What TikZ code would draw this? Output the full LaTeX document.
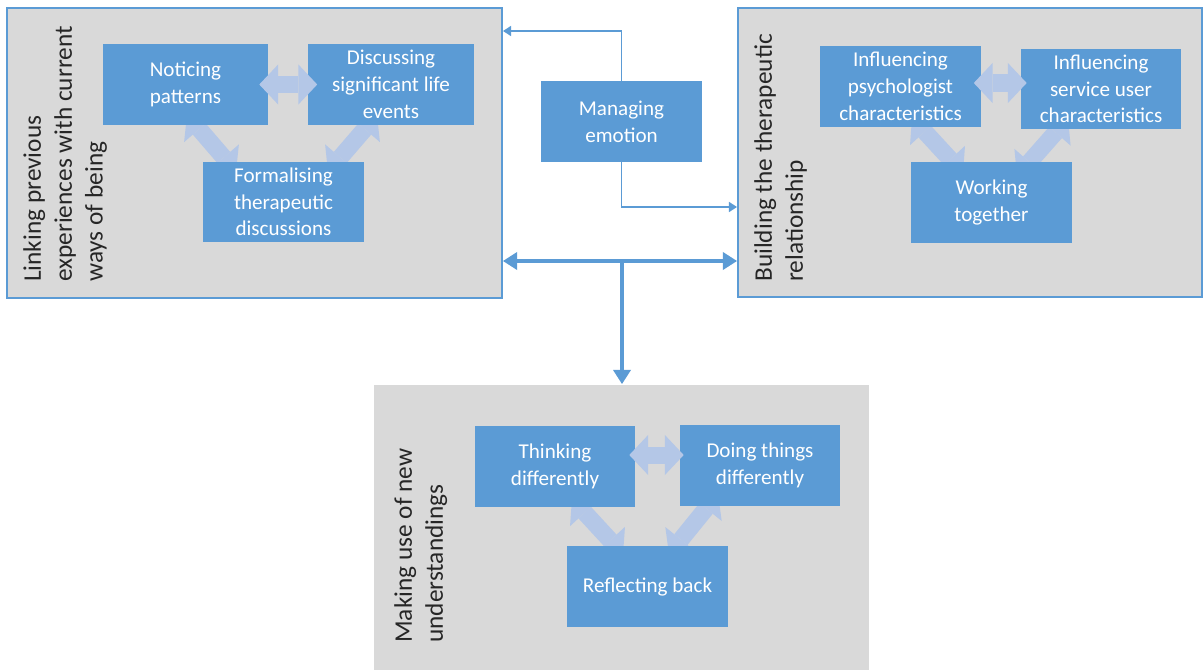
\documentclass[tikz,border=0pt]{standalone}
\usepackage{fontspec}
\setmainfont{Carlito}
\usetikzlibrary{arrows.meta}
\definecolor{boxblue}{HTML}{5B9BD5}
\definecolor{themegray}{HTML}{D9D9D9}
\definecolor{linkblue}{HTML}{B4C7E7}
\definecolor{labelgray}{HTML}{262626}
\pgfdeclarelayer{bg}
\pgfdeclarelayer{behind}
\pgfsetlayers{bg,behind,main}
\begin{document}
\begin{tikzpicture}[x=0.025cm,y=-0.025cm,
  topic/.style={fill=boxblue,text=white,inner sep=0pt,minimum width=4cm,minimum height=2cm,
    align=center,font=\fontsize{15}{19}\selectfont},
  theme/.style={fill=themegray,draw=boxblue,line width=1.4pt,inner sep=0pt},
  themelabel/.style={rotate=90,anchor=north west,inner sep=0pt,align=left,text=labelgray,
    font=\fontsize{18}{22}\selectfont},
  link/.style={draw=linkblue,line width=0.425cm,
    arrows={Triangle[length=0.47cm,width=1cm,line width=0pt]-Triangle[length=0.47cm,width=1cm,line width=0pt]}},
  flow/.style={draw=boxblue,line width=1.4pt,-{Triangle[length=0.2cm,width=0.26cm,line width=0pt]}},
  mainflow/.style={draw=boxblue,line width=2.5pt,{Triangle[length=0.35cm,width=0.45cm,line width=0pt]}-{Triangle[length=0.35cm,width=0.45cm,line width=0pt]}}]
\useasboundingbox (0,0) rectangle (1203,670);
% the three themes
\begin{pgfonlayer}{bg}
\node[theme,minimum width=12.375cm,minimum height=7.25cm] (linking) at (254.5,153) {};
\node[theme,minimum width=11.6cm,minimum height=7.225cm] (building) at (970,152.5) {};
\node[theme,draw=none,minimum width=12.375cm,minimum height=7.125cm] (making) at (621.5,527.5) {};
\end{pgfonlayer}
\node[themelabel] (linkingtitle) at (23,282) {Linking previous\\experiences with current\\ways of being};
\node[themelabel] (buildingtitle) at (754,282) {Building the therapeutic\\relationship};
\node[themelabel] (makingtitle) at (394,643) {Making use of new\\understandings};
% subthemes
\node[topic,minimum width=4.125cm] (noticing) at (185.5,84.5) {Noticing\\patterns};
\node[topic,minimum width=4.125cm] (discussing) at (391,84.5) {Discussing\\significant life\\events};
\node[topic] (formal) at (283.5,202) {Formalising\\therapeutic\\discussions};
\node[topic] (managing) at (621.5,121.5) {Managing\\emotion};
\node[topic] (psych) at (900.5,86.5) {Influencing\\psychologist\\characteristics};
\node[topic] (service) at (1101,89) {Influencing\\service user\\characteristics};
\node[topic] (working) at (991.5,202.5) {Working\\together};
\node[topic] (thinking) at (555,466.5) {Thinking\\differently};
\node[topic] (doing) at (760,465.5) {Doing things\\differently};
\node[topic] (reflecting) at (647.5,586.5) {Reflecting back};
% links inside the themes
\begin{pgfonlayer}{behind}
\draw[link] ([shift={(1.5,-10)}]noticing.south) -- ([shift={(-47.5,10)}]formal.north);
\draw[link] ([shift={(-14,-10)}]discussing.south) -- ([shift={(44.5,10)}]formal.north);
\draw[link] ([shift={(11.5,-9)}]psych.south) -- ([shift={(-28.5,11)}]working.north);
\draw[link] ([shift={(-33,-11)}]service.south) -- ([shift={(25.5,14)}]working.north);
\draw[link] ([shift={(17,-8)}]thinking.south) -- ([shift={(-24.5,8)}]reflecting.north);
\draw[link] ([shift={(-42,-12)}]doing.south) -- ([shift={(21.5,8)}]reflecting.north);
\end{pgfonlayer}
\draw[link] ([shift={(-9,0)}]noticing.east) -- ([shift={(9,0)}]discussing.west);
\draw[link] ([shift={(-7,-3.5)}]psych.east) -- ([shift={(6,-6)}]service.west);
\draw[link] ([shift={(-6,-11.5)}]thinking.east) -- ([shift={(4,-10.5)}]doing.west);
% links between the themes
\coordinate (emoup) at (622,31);
\coordinate (emodown) at (622,207);
\coordinate (hub) at (622,261);
\draw[flow] (managing.north) |- (linking.east |- emoup);
\draw[flow] (managing.south) |- (building.west |- emodown);
\draw[mainflow] (linking.east |- hub) -- (building.west |- hub);
\draw[mainflow,-{Triangle[length=0.35cm,width=0.45cm,line width=0pt]}] (hub) -- (hub |- making.north);
\end{tikzpicture}
\end{document}
